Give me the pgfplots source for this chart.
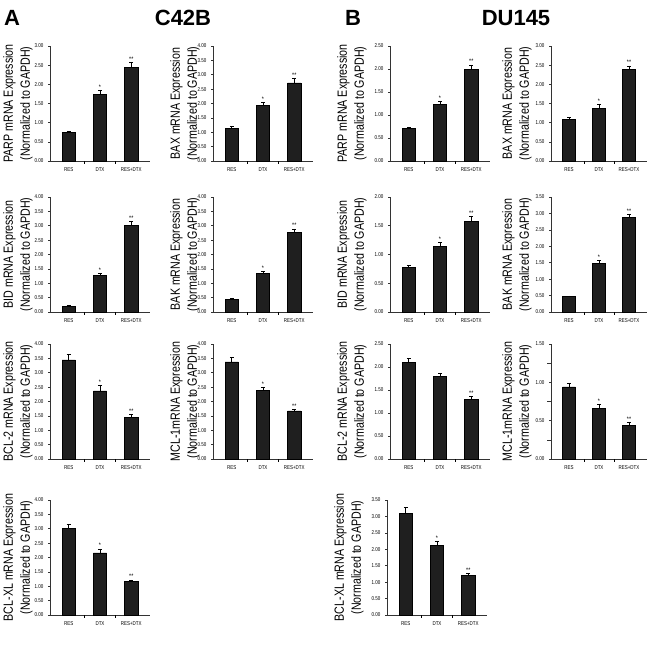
\documentclass[border=0pt]{standalone}
\usepackage{fontspec}
\setmainfont{Liberation Sans}
\newfontfamily\lblfamily[FakeStretch=0.8]{Liberation Sans}
\newcommand\lblfont{\lblfamily\fontsize{10}{12.75}\selectfont}
\newcommand\tickfont{\lblfamily\fontsize{4.2}{4.6}\selectfont}
\newcommand\starfont{\lblfamily\fontsize{5}{5.5}\selectfont}
\usepackage{pgfplots}
\pgfplotsset{compat=1.18}
\tikzset{starlbl/.style={font=\starfont, above, inner sep=0.6pt}}
\pgfplotsset{
  panel/.style={
    scale only axis, width=75pt, height=86.25pt, anchor=south west,
    axis lines*=left, clip=false,
    xmin=-0.6, xmax=2.6, ymin=0,
    ybar, bar width=0.42,
    xtick={0,1,2}, xticklabels={RES,DTX,RES+DTX},
    major x tick style={draw=none},
    extra x ticks={0.5,1.5}, extra x tick labels={},
    extra x tick style={major x tick style={draw=black,line width=0.4pt}, major tick length=2pt},
    ytick distance=0.5,
    tick align=outside, major tick length=1.5pt,
    y tick label style={/pgf/number format/.cd, fixed, fixed zerofill, precision=2},
    tick label style={font=\tickfont},
    /pgf/number format/assume math mode=true,
    ylabel style={font=\lblfont, align=center, anchor=center},
    axis line style={line width=0.5pt, black!80},
    every tick/.style={black!80, line width=0.4pt},
  },
  bars/.style={fill=black!88, draw=black, line width=0.4pt,
    error bars/.cd, y dir=plus, y explicit,
    error bar style={line width=0.5pt, black},
    error mark options={rotate=90, mark size=1.5pt, line width=0.5pt, black}},
}
\begin{document}
\begin{tikzpicture}
\useasboundingbox (0,0) rectangle (487.5pt,-483.75pt);
\node[font=\bfseries\fontsize{16.5}{18}\selectfont] at (9pt,-13.5pt) {A};
\node[font=\bfseries\fontsize{16.5}{18}\selectfont] at (137.25pt,-13.5pt) {C42B};
\node[font=\bfseries\fontsize{16.5}{18}\selectfont] at (264.75pt,-13.5pt) {B};
\node[font=\bfseries\fontsize{16.5}{18}\selectfont] at (387pt,-13.5pt) {DU145};

% ---------- Row 1 ----------
\begin{axis}[panel, at={(37.5pt,-120.75pt)}, ymax=3,
  ylabel={PARP mRNA Expression\\(Normalized to GAPDH)},
  ylabel style={at={(axis description cs:-0.32,0.5)}}]
\addplot[bars] coordinates {(0,0.75) +- (0,0.03) (1,1.74) +- (0,0.11) (2,2.44) +- (0,0.14)};
\node[starlbl] at (axis cs:1,1.85) {*};
\node[starlbl] at (axis cs:2,2.58) {**};
\end{axis}

\begin{axis}[panel, at={(159.75pt,-120.75pt)}, ymax=4,
  ylabel={BAX mRNA Expression\\(Normalized to GAPDH)},
  ylabel style={at={(axis description cs:-0.28,0.5)}}]
\addplot[bars] coordinates {(0,1.13) +- (0,0.06) (1,1.93) +- (0,0.10) (2,2.72) +- (0,0.15)};
\node[starlbl] at (axis cs:1,2.03) {*};
\node[starlbl] at (axis cs:2,2.87) {**};
\end{axis}

\begin{axis}[panel, at={(292.5pt,-120.75pt)}, ymax=2.5,
  ylabel={PARP mRNA Expression\\(Normalized to GAPDH)},
  ylabel style={at={(axis description cs:-0.38,0.5)}}]
\addplot[bars] coordinates {(0,0.71) +- (0,0.03) (1,1.23) +- (0,0.07) (2,1.99) +- (0,0.10)};
\node[starlbl] at (axis cs:1,1.30) {*};
\node[starlbl] at (axis cs:2,2.09) {**};
\end{axis}

\begin{axis}[panel, at={(413.25pt,-120.75pt)}, width=72pt, ymax=3,
  ylabel={BAX mRNA Expression\\(Normalized to GAPDH)},
  ylabel style={at={(axis description cs:-0.354,0.5)}}]
\addplot[bars] coordinates {(0,1.08) +- (0,0.05) (1,1.37) +- (0,0.10) (2,2.38) +- (0,0.10)};
\node[starlbl] at (axis cs:1,1.47) {*};
\node[starlbl] at (axis cs:2,2.48) {**};
\end{axis}

% ---------- Row 2 ----------
\begin{axis}[panel, at={(37.5pt,-234pt)}, ymax=4,
  ylabel={BID mRNA Expression\\(Normalized to GAPDH)},
  ylabel style={at={(axis description cs:-0.32,0.5)}}]
\addplot[bars] coordinates {(0,0.20) +- (0,0.02) (1,1.27) +- (0,0.08) (2,3.00) +- (0,0.15)};
\node[starlbl] at (axis cs:1,1.35) {*};
\node[starlbl] at (axis cs:2,3.15) {**};
\end{axis}

\begin{axis}[panel, at={(159.75pt,-234pt)}, ymax=4,
  ylabel={BAK mRNA Expression\\(Normalized to GAPDH)},
  ylabel style={at={(axis description cs:-0.28,0.5)}}]
\addplot[bars] coordinates {(0,0.43) +- (0,0.03) (1,1.35) +- (0,0.07) (2,2.77) +- (0,0.12)};
\node[starlbl] at (axis cs:1,1.42) {*};
\node[starlbl] at (axis cs:2,2.89) {**};
\end{axis}

\begin{axis}[panel, at={(292.5pt,-234pt)}, ymax=2,
  ylabel={BID mRNA Expression\\(Normalized to GAPDH)},
  ylabel style={at={(axis description cs:-0.38,0.5)}}]
\addplot[bars] coordinates {(0,0.77) +- (0,0.04) (1,1.14) +- (0,0.07) (2,1.58) +- (0,0.08)};
\node[starlbl] at (axis cs:1,1.21) {*};
\node[starlbl] at (axis cs:2,1.66) {**};
\end{axis}

\begin{axis}[panel, at={(413.25pt,-234pt)}, width=72pt, ymax=3.5,
  ylabel={BAK mRNA Expression\\(Normalized to GAPDH)},
  ylabel style={at={(axis description cs:-0.354,0.5)}}]
\addplot[bars] coordinates {(0,0.47) +- (0,0.02) (1,1.48) +- (0,0.08) (2,2.88) +- (0,0.10)};
\node[starlbl] at (axis cs:1,1.56) {*};
\node[starlbl] at (axis cs:2,2.98) {**};
\end{axis}

% ---------- Row 3 ----------
\begin{axis}[panel, at={(37.5pt,-344.25pt)}, ymax=4,
  ylabel={BCL-2 mRNA Expression\\(Normalized to GAPDH)},
  ylabel style={at={(axis description cs:-0.32,0.5)}}]
\addplot[bars] coordinates {(0,3.45) +- (0,0.18) (1,2.37) +- (0,0.20) (2,1.46) +- (0,0.08)};
\node[starlbl] at (axis cs:1,2.57) {*};
\node[starlbl] at (axis cs:2,1.54) {**};
\end{axis}

\begin{axis}[panel, at={(159.75pt,-344.25pt)}, ymax=4,
  ylabel={MCL-1mRNA Expression\\(Normalized to GAPDH)},
  ylabel style={at={(axis description cs:-0.28,0.5)}}]
\addplot[bars] coordinates {(0,3.38) +- (0,0.15) (1,2.38) +- (0,0.12) (2,1.67) +- (0,0.06)};
\node[starlbl] at (axis cs:1,2.50) {*};
\node[starlbl] at (axis cs:2,1.73) {**};
\end{axis}

\begin{axis}[panel, at={(292.5pt,-344.25pt)}, ymax=2.5,
  ylabel={BCL-2 mRNA Expression\\(Normalized to GAPDH)},
  ylabel style={at={(axis description cs:-0.38,0.5)}}]
\addplot[bars] coordinates {(0,2.10) +- (0,0.08) (1,1.79) +- (0,0.07) (2,1.29) +- (0,0.07)};
\node[starlbl] at (axis cs:2,1.36) {**};
\end{axis}

\begin{axis}[panel, at={(413.25pt,-344.25pt)}, width=72pt, ymax=1.5,
  minor y tick num=1,
  ylabel={MCL-1mRNA Expression\\(Normalized to GAPDH)},
  ylabel style={at={(axis description cs:-0.354,0.5)}}]
\addplot[bars] coordinates {(0,0.94) +- (0,0.05) (1,0.66) +- (0,0.05) (2,0.44) +- (0,0.04)};
\node[starlbl] at (axis cs:1,0.71) {*};
\node[starlbl] at (axis cs:2,0.48) {**};
\end{axis}

% ---------- Row 4 ----------
\begin{axis}[panel, at={(37.5pt,-461.25pt)}, ymax=4,
  ylabel={BCL-XL mRNA Expression\\(Normalized to GAPDH)},
  ylabel style={at={(axis description cs:-0.32,0.5)}}]
\addplot[bars] coordinates {(0,3.00) +- (0,0.16) (1,2.16) +- (0,0.14) (2,1.16) +- (0,0.06)};
\node[starlbl] at (axis cs:1,2.30) {*};
\node[starlbl] at (axis cs:2,1.22) {**};
\end{axis}

\begin{axis}[panel, at={(290.25pt,-461.25pt)}, ymax=3.5,
  ylabel={BCL-XL mRNA Expression\\(Normalized to GAPDH)},
  ylabel style={at={(axis description cs:-0.38,0.5)}}]
\addplot[bars] coordinates {(0,3.10) +- (0,0.17) (1,2.11) +- (0,0.12) (2,1.20) +- (0,0.06)};
\node[starlbl] at (axis cs:1,2.23) {*};
\node[starlbl] at (axis cs:2,1.26) {**};
\end{axis}
\end{tikzpicture}
\end{document}
